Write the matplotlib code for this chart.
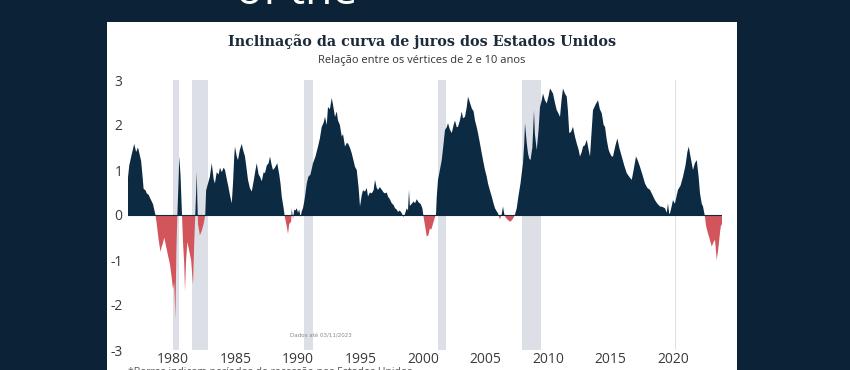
import matplotlib.pyplot as plt
import numpy as np
from matplotlib.patches import Rectangle

plt.rcParams['axes.unicode_minus'] = False

# spread 10a - 2a (p.p.)
anos = [1976.35, 1976.5, 1976.7, 1976.9, 1977.05, 1977.2, 1977.3, 1977.45, 1977.55, 1977.65,
        1977.8, 1977.9, 1978.05, 1978.16, 1978.3, 1978.4, 1978.5, 1978.6, 1978.7, 1978.85,
        1979.0, 1979.1, 1979.2, 1979.3, 1979.45, 1979.6, 1979.76, 1979.9, 1980.0, 1980.1,
        1980.19, 1980.27, 1980.35, 1980.45, 1980.5, 1980.6, 1980.68, 1980.72, 1980.8, 1980.9,
        1980.96, 1981.05, 1981.15, 1981.3, 1981.45, 1981.6, 1981.7, 1981.78, 1981.85, 1981.9,
        1981.95, 1982.0, 1982.15, 1982.3, 1982.45, 1982.58, 1982.65, 1982.8, 1982.95, 1983.1,
        1983.25, 1983.35, 1983.5, 1983.65, 1983.76, 1983.9, 1984.05, 1984.16, 1984.3, 1984.43,
        1984.55, 1984.7, 1984.8, 1984.9, 1984.96, 1985.1, 1985.2, 1985.35, 1985.5, 1985.6,
        1985.76, 1985.9, 1986.0, 1986.15, 1986.3, 1986.45, 1986.6, 1986.7, 1986.85, 1986.96,
        1987.1, 1987.25, 1987.36, 1987.5, 1987.65, 1987.76, 1987.9, 1988.0, 1988.15, 1988.34,
        1988.5, 1988.6, 1988.7, 1988.85, 1988.95, 1989.1, 1989.2, 1989.3, 1989.45, 1989.5,
        1989.6, 1989.7, 1989.8, 1989.9, 1990.0, 1990.1, 1990.2, 1990.3, 1990.4, 1990.5,
        1990.56, 1990.7, 1990.83, 1991.0, 1991.2, 1991.4, 1991.6, 1991.75, 1991.9, 1992.05,
        1992.16, 1992.3, 1992.4, 1992.55, 1992.7, 1992.8, 1992.96, 1993.1, 1993.2, 1993.35,
        1993.5, 1993.6, 1993.76, 1993.9, 1994.0, 1994.15, 1994.3, 1994.45, 1994.56, 1994.7,
        1994.85, 1994.96, 1995.1, 1995.2, 1995.36, 1995.5, 1995.6, 1995.75, 1995.9, 1996.05,
        1996.16, 1996.3, 1996.4, 1996.55, 1996.7, 1996.85, 1996.96, 1997.1, 1997.2, 1997.35,
        1997.5, 1997.65, 1997.76, 1997.9, 1998.0, 1998.15, 1998.3, 1998.45, 1998.55, 1998.7,
        1998.8, 1998.88, 1998.95, 1999.1, 1999.25, 1999.36, 1999.5, 1999.65, 1999.8, 1999.95,
        2000.05, 2000.2, 2000.3, 2000.43, 2000.55, 2000.65, 2000.8, 2000.95, 2001.04, 2001.1,
        2001.2, 2001.35, 2001.5, 2001.65, 2001.76, 2001.9, 2002.0, 2002.15, 2002.3, 2002.45,
        2002.56, 2002.7, 2002.8, 2002.95, 2003.1, 2003.2, 2003.36, 2003.5, 2003.6, 2003.75,
        2003.9, 2004.05, 2004.16, 2004.3, 2004.4, 2004.55, 2004.7, 2004.85, 2004.96, 2005.1,
        2005.2, 2005.35, 2005.5, 2005.65, 2005.76, 2005.9, 2006.0, 2006.15, 2006.3, 2006.4,
        2006.5, 2006.6, 2006.75, 2006.96, 2007.1, 2007.2, 2007.35, 2007.5, 2007.63, 2007.8,
        2007.9, 2008.0, 2008.1, 2008.16, 2008.3, 2008.4, 2008.5, 2008.6, 2008.75, 2008.88,
        2008.95, 2009.1, 2009.25, 2009.36, 2009.5, 2009.6, 2009.75, 2009.9, 2010.05, 2010.16,
        2010.3, 2010.4, 2010.55, 2010.7, 2010.85, 2010.96, 2011.1, 2011.2, 2011.35, 2011.5,
        2011.6, 2011.7, 2011.85, 2012.0, 2012.15, 2012.3, 2012.45, 2012.56, 2012.7, 2012.8,
        2012.95, 2013.1, 2013.25, 2013.36, 2013.5, 2013.6, 2013.8, 2014.0, 2014.15, 2014.3,
        2014.45, 2014.56, 2014.7, 2014.85, 2014.96, 2015.1, 2015.2, 2015.4, 2015.55, 2015.7,
        2015.9, 2016.1, 2016.3, 2016.5, 2016.7, 2016.85, 2017.04, 2017.2, 2017.36, 2017.55,
        2017.76, 2017.95, 2018.16, 2018.35, 2018.56, 2018.75, 2018.96, 2019.15, 2019.36, 2019.5,
        2019.6, 2019.7, 2019.76, 2019.9, 2020.0, 2020.15, 2020.4, 2020.6, 2020.8, 2021.0,
        2021.15, 2021.26, 2021.4, 2021.6, 2021.75, 2021.9, 2022.05, 2022.16, 2022.3, 2022.4,
        2022.5, 2022.56, 2022.65, 2022.8, 2022.95, 2023.1, 2023.25, 2023.36, 2023.5, 2023.6,
        2023.76, 2023.85, 2023.92]
spread = [0.70, 1.10, 1.35, 1.58, 1.40, 1.50, 1.38, 1.20, 0.90, 0.58,
          0.55, 0.48, 0.45, 0.38, 0.30, 0.24, 0.12, 0.00, -0.20, -0.55,
          -0.82, -0.70, -0.62, -0.50, -0.70, -0.90, -1.10, -1.40, -1.65, -1.50,
          -2.30, -0.80, 0.00, 0.80, 1.30, 0.90, 0.30, 0.00, -0.60, -1.10,
          -1.70, -1.00, -0.60, -0.80, -1.00, -1.55, -0.60, 0.00, 0.50, 0.96,
          0.30, -0.20, -0.45, -0.35, -0.20, 0.00, 0.55, 0.70, 0.85, 1.15,
          0.80, 0.70, 0.95, 0.90, 1.05, 0.95, 1.05, 1.00, 0.80, 0.63,
          0.45, 0.26, 0.70, 1.30, 1.52, 1.30, 1.22, 1.45, 1.58, 1.45,
          1.30, 1.00, 0.78, 0.60, 0.52, 0.75, 1.00, 1.15, 0.90, 0.85,
          0.75, 0.95, 0.93, 1.10, 1.15, 1.30, 1.10, 1.00, 1.05, 1.15,
          0.90, 0.70, 0.41, 0.15, -0.05, -0.25, -0.42, -0.20, -0.15, 0.15,
          -0.10, 0.12, 0.10, 0.15, 0.05, 0.12, -0.05, 0.08, 0.15, 0.30,
          0.41, 0.70, 0.85, 0.90, 1.15, 1.30, 1.52, 1.70, 1.96, 2.05,
          2.18, 2.00, 2.40, 2.35, 2.60, 2.45, 2.18, 2.30, 2.10, 2.00,
          1.74, 1.80, 1.52, 1.60, 1.59, 1.50, 1.37, 1.20, 1.07, 1.00,
          0.60, 0.19, 0.44, 0.55, 0.52, 0.60, 0.41, 0.50, 0.48, 0.55,
          0.78, 0.60, 0.56, 0.62, 0.56, 0.50, 0.48, 0.50, 0.41, 0.35,
          0.26, 0.22, 0.15, 0.12, 0.07, 0.10, 0.04, -0.05, 0.02, 0.15,
          0.10, 0.56, 0.20, 0.25, 0.30, 0.26, 0.35, 0.28, 0.25, 0.15,
          -0.05, -0.30, -0.48, -0.45, -0.30, -0.33, -0.20, -0.05, 0.00, 0.40,
          0.78, 1.00, 1.22, 1.60, 1.89, 1.95, 2.04, 1.90, 1.82, 2.00,
          2.10, 1.95, 1.96, 2.10, 2.30, 2.15, 2.18, 2.40, 2.63, 2.50,
          2.37, 2.30, 2.10, 1.95, 1.82, 1.60, 1.37, 1.15, 1.00, 0.85,
          0.70, 0.55, 0.41, 0.25, 0.15, 0.08, 0.04, -0.10, 0.02, 0.19,
          0.02, -0.05, -0.10, -0.15, -0.12, -0.08, 0.00, 0.15, 0.41, 0.70,
          0.93, 1.15, 1.60, 2.04, 1.60, 1.37, 1.25, 1.22, 1.50, 2.33,
          1.80, 1.44, 1.90, 2.40, 2.55, 2.70, 2.55, 2.48, 2.65, 2.81,
          2.75, 2.70, 2.50, 2.33, 2.25, 2.18, 2.60, 2.81, 2.70, 2.63,
          2.30, 1.82, 1.85, 1.96, 1.75, 1.59, 1.45, 1.30, 1.40, 1.52,
          1.55, 1.67, 1.45, 1.30, 1.90, 2.33, 2.45, 2.55, 2.35, 2.26,
          2.00, 1.96, 1.67, 1.45, 1.37, 1.30, 1.30, 1.55, 1.70, 1.50,
          1.30, 1.10, 0.93, 0.85, 0.78, 1.00, 1.30, 1.20, 1.07, 0.90,
          0.70, 0.60, 0.56, 0.45, 0.33, 0.25, 0.19, 0.18, 0.15, 0.05,
          0.26, 0.02, 0.04, 0.20, 0.33, 0.25, 0.56, 0.65, 0.85, 1.10,
          1.40, 1.52, 1.30, 1.00, 1.15, 1.22, 0.85, 0.48, 0.25, 0.19,
          0.05, -0.05, -0.25, -0.41, -0.55, -0.70, -0.60, -0.55, -1.00, -0.80,
          -0.40, -0.20, -0.25]

# recessoes nos EUA (NBER)
rec_inicio = [1980.0, 1981.5, 1990.5, 2001.17, 2007.92, 2020.12]
rec_fim = [1980.5, 1982.83, 1991.17, 2001.83, 2009.42, 2020.22]

navy = '#0c2a42'
red = '#d2555c'
bg = '#0b2237'

x = np.array(anos)
y = np.array(spread)

fig = plt.figure(figsize=(8.5, 3.7), dpi=100, facecolor=bg)
fig.patches.append(Rectangle((107 / 850, -0.1), 630 / 850, 1.1 - 22 / 370,
                             transform=fig.transFigure, facecolor='white',
                             edgecolor='none', zorder=-5))
fig.text(297 / 850, 1 - 4 / 370, 'of the', color='white', fontsize=32,
         ha='center', va='baseline', family='Open Sans')

ax = fig.add_axes([128 / 850, 20 / 370, 594 / 850, 270 / 370])
ax.set_facecolor('white')
for a, b in zip(rec_inicio, rec_fim):
    ax.axvspan(a, b, color='#dcdfe6', lw=0, zorder=1)
ax.fill_between(x, y, 0, where=y >= 0, interpolate=True, color=navy, lw=0, zorder=2)
ax.fill_between(x, y, 0, where=y <= 0, interpolate=True, color=red, lw=0, zorder=2)
ax.axhline(0, color=navy, lw=0.8, zorder=3)

ax.set_xlim(1976.4, 2023.92)
ax.set_ylim(-3, 3)
ax.set_xticks(range(1980, 2021, 5))
ax.set_yticks(range(-3, 4))
ax.tick_params(length=0, labelsize=10, colors='#3a3a3a')
ax.tick_params(axis='x', pad=1.5)
ax.tick_params(axis='y', pad=4)
for lab in ax.get_xticklabels() + ax.get_yticklabels():
    lab.set_family('Open Sans')
for s in ax.spines.values():
    s.set_visible(False)

fig.text(321 / 850, 1 - 336 / 370, 'Dados até 03/11/2023', fontsize=4, color='#888888',
         ha='center', va='center')
fig.text(422 / 850, 1 - 42 / 370, 'Inclinação da curva de juros dos Estados Unidos',
         ha='center', va='center', fontsize=10.3, fontweight='bold', color='#1c2a3a',
         family='DejaVu Serif')
fig.text(422 / 850, 1 - 60 / 370, 'Relação entre os vértices de 2 e 10 anos',
         ha='center', va='center', fontsize=8, color='#333333', family='Open Sans')
fig.text(128 / 850, 1 - 367 / 370, '*Barras indicam períodos de recessão nos Estados Unidos',
         ha='left', va='top', fontsize=7.5, color='#555555', family='Open Sans')

fig.savefig('out.png', dpi=100, facecolor=bg)
